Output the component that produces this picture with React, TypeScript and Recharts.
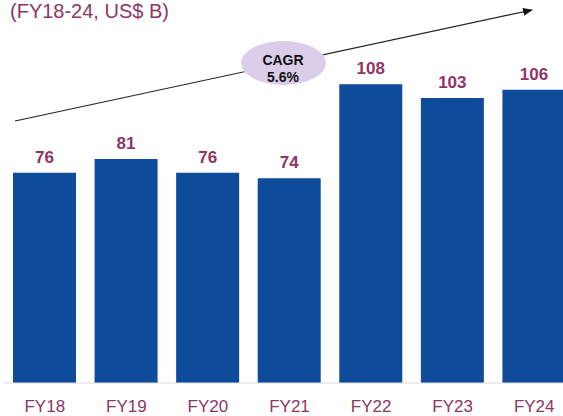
import { BarChart, Bar, XAxis, YAxis, LabelList } from 'recharts'

const years = ['FY18', 'FY19', 'FY20', 'FY21', 'FY22', 'FY23', 'FY24']
const revenue = [76, 81, 76, 74, 108, 103, 106]
const title = '(FY18-24, US$ B)'
const cagrLabel = ['CAGR', '5.6%']

const data = years.map((year, i) => ({ year, value: revenue[i] }))

const maroon = '#8e3563'
const barBlue = '#0e4c9b'
const font = '"Liberation Sans", Arial, sans-serif'

export default function App() {
  return (
    <div style={{ position: 'absolute', left: 0, top: 0, width: 563, height: 416, overflow: 'hidden', background: '#fff' }}>
      <BarChart
        width={575}
        height={416}
        data={data}
        margin={{ top: 51, right: 0, bottom: 3, left: 4 }}
      >
        <XAxis
          dataKey="year"
          interval={0}
          tickLine={false}
          tickSize={0}
          tickMargin={17}
          axisLine={{ stroke: '#d9d9d9' }}
          tick={{ fill: maroon, fontSize: 17, fontFamily: font }}
        />
        <YAxis hide domain={[0, 120]} />
        <Bar dataKey="value" fill={barBlue} barSize={63} isAnimationActive={false}>
          <LabelList
            dataKey="value"
            position="top"
            offset={10}
            fill={maroon}
            fontSize={17}
            fontWeight="bold"
            fontFamily={font}
          />
        </Bar>
      </BarChart>

      {/* title + CAGR annotation laid over the chart */}
      <svg width={563} height={416} style={{ position: 'absolute', left: 0, top: 0, pointerEvents: 'none' }}>
        <defs>
          <marker id="head" markerWidth="10" markerHeight="8" refX="9" refY="4" orient="auto" markerUnits="userSpaceOnUse">
            <path d="M0,0 L10,4 L0,8 z" fill="#111" />
          </marker>
        </defs>
        <text x={10} y={18} fontSize={20} fill={maroon} fontFamily={font}>{title}</text>
        <line x1={15} y1={121} x2={532} y2={10} stroke="#222" strokeWidth={1.2} markerEnd="url(#head)" />
        <ellipse cx={283.5} cy={63} rx={42.5} ry={22} fill="#dacdea" />
        <text x={283} y={65} textAnchor="middle" fontSize={14} fontWeight="bold" fill="#111" fontFamily={font}>{cagrLabel[0]}</text>
        <text x={283} y={82} textAnchor="middle" fontSize={14} fontWeight="bold" fill="#111" fontFamily={font}>{cagrLabel[1]}</text>
      </svg>
    </div>
  )
}
